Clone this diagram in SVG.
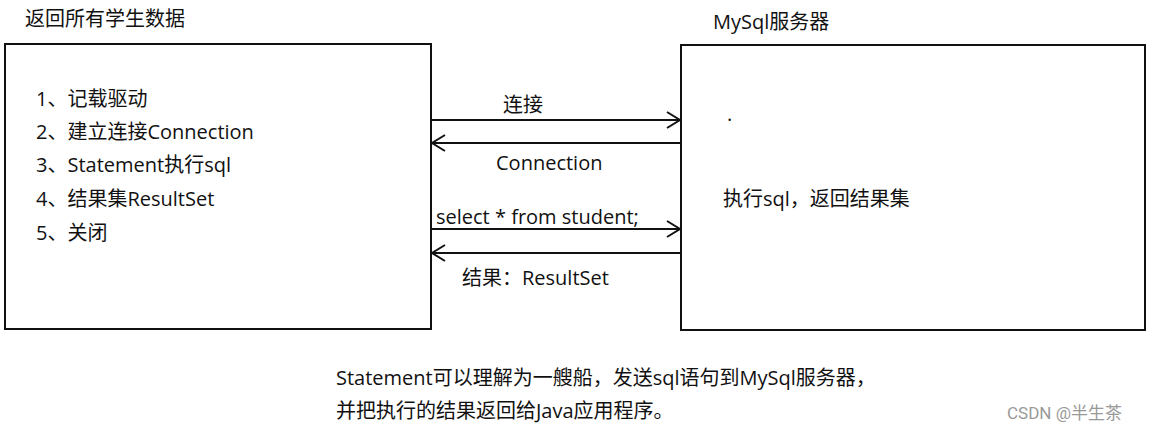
<svg xmlns="http://www.w3.org/2000/svg" width="1154" height="431" viewBox="0 0 1154 431">
<defs>
<style>
.t{font-family:"Open Sans","Noto Sans CJK SC",sans-serif;font-size:20px;fill:#111}
.box{fill:#fff;stroke:#111;stroke-width:2}
.ln{stroke:#111;stroke-width:2;fill:none}
.wm{font-family:"Roboto","Noto Sans CJK SC",sans-serif;font-size:17px;fill:#999}
</style>
<marker id="ah" viewBox="0 0 20 20" refX="16" refY="10" markerWidth="20" markerHeight="20" markerUnits="userSpaceOnUse" orient="auto">
<path d="M3,2 L16,10 L3,18" fill="none" stroke="#111" stroke-width="2"/>
</marker>
</defs>
<rect width="1154" height="431" fill="#fff"/>
<g id="client">
<text class="t" x="25" y="26">返回所有学生数据</text>
<rect class="box" x="5" y="44" width="426" height="285"/>
<text class="t" x="36" y="106">1、记载驱动</text>
<text class="t" x="36" y="139">2、建立连接Connection</text>
<text class="t" x="36" y="172">3、Statement执行sql</text>
<text class="t" x="36" y="206">4、结果集ResultSet</text>
<text class="t" x="36" y="240">5、关闭</text>
</g>
<g id="server">
<text class="t" x="713" y="29">MySql服务器</text>
<rect class="box" x="681" y="45" width="464" height="285"/>
<text class="t" x="727" y="127">·</text>
<text class="t" x="723" y="206">执行sql，返回结果集</text>
</g>
<g id="connectors">
<line class="ln" x1="431" y1="120" x2="680" y2="120" marker-end="url(#ah)"/>
<text class="t" x="503" y="112">连接</text>
<line class="ln" x1="681" y1="143" x2="432" y2="143" marker-end="url(#ah)"/>
<text class="t" x="496" y="170">Connection</text>
<line class="ln" x1="431" y1="229" x2="680" y2="229" marker-end="url(#ah)"/>
<text class="t" x="436" y="224">select * from student;</text>
<line class="ln" x1="681" y1="253" x2="432" y2="253" marker-end="url(#ah)"/>
<text class="t" x="462" y="285">结果：ResultSet</text>
</g>
<g id="note">
<text class="t" x="336" y="385">Statement可以理解为一艘船，发送sql语句到MySql服务器，</text>
<text class="t" x="336" y="418">并把执行的结果返回给Java应用程序。</text>
</g>
<text class="wm" x="1007" y="419">CSDN @半生茶</text>
</svg>
